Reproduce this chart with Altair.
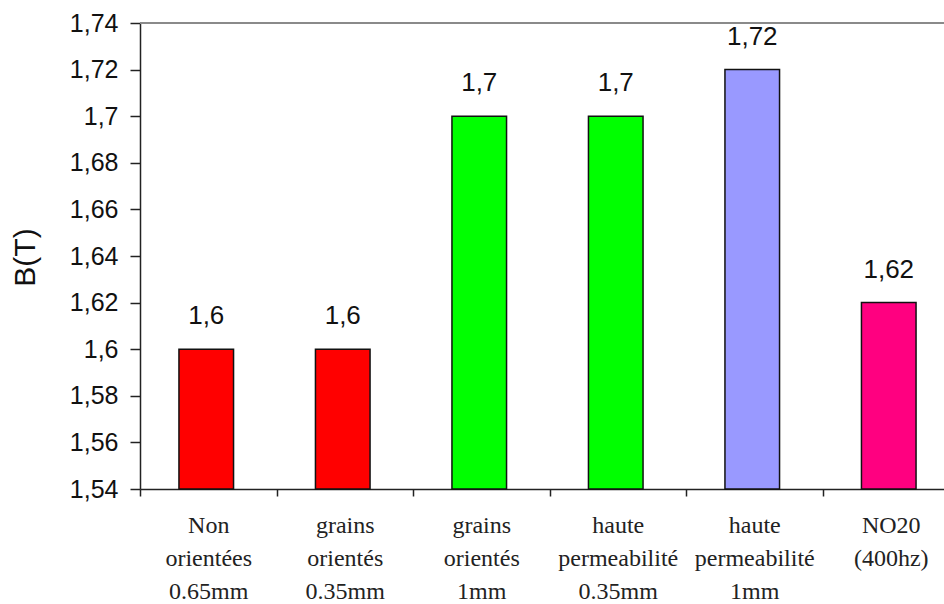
import altair as alt
import pandas as pd

# Saturation flux density B(T) for each sheet type
categories = [
    "Non|orientées|0.65mm",
    "grains|orientés|0.35mm",
    "grains|orientés|1mm",
    "haute|permeabilité|0.35mm",
    "haute|permeabilité|1mm",
    "NO20|(400hz)",
]
values = [1.6, 1.6, 1.7, 1.7, 1.72, 1.62]
colors = ["#FF0000", "#FF0000", "#00FF00", "#00FF00", "#9999FF", "#FF0080"]
y_ticks = [1.54, 1.56, 1.58, 1.60, 1.62, 1.64, 1.66, 1.68, 1.70, 1.72, 1.74]
y_min, y_max = 1.54, 1.74

df = pd.DataFrame({"cat": categories, "b": values, "color": colors})

x_enc = alt.X(
    "cat:N",
    sort=None,
    scale=alt.Scale(range=[0, 819], paddingInner=0, paddingOuter=0),
    axis=alt.Axis(
        title=None,
        labelAngle=0,
        labelExpr="split(datum.label, '|')",
        labelFont="Liberation Serif",
        labelFontSize=24,
        labelLineHeight=33,
        labelPadding=17,
        labelColor="#222222",
        tickBand="extent",
        tickSize=7,
        tickColor="#222222",
        domainColor="#222222",
        domainWidth=1.5,
        tickWidth=1.5,
        grid=False,
    ),
)

y_scale = alt.Scale(domain=[y_min, y_max], zero=False, nice=False)

base = alt.Chart(df)

bars = base.mark_bar(
    width=alt.RelativeBandSize(0.4),
    xOffset=-2,
    stroke="#111111",
    strokeWidth=1.5,
).encode(
    x=x_enc,
    y=alt.Y(
        "b:Q",
        scale=y_scale,
        axis=alt.Axis(
            values=y_ticks,
            labelExpr="replace(toString(datum.value), '.', ',')",
            labelFont="Arial, Liberation Sans",
            labelFontSize=25,
            labelColor="#111111",
            labelPadding=12,
            tickSize=10,
            tickColor="#222222",
            tickWidth=1.5,
            domainColor="#222222",
            domainWidth=1.5,
            grid=False,
            title="B(T)",
            titleFont="Arial, Liberation Sans",
            titleFontSize=30,
            titleFontWeight="normal",
            titleColor="#111111",
            titleX=-115,
            titleY=234,
            titleBaseline="middle",
        ),
    ),
    y2=alt.datum(y_min),
    color=alt.Color("color:N", scale=None, legend=None),
)

labels = base.transform_calculate(
    label="replace(toString(datum.b), '.', ',')"
).mark_text(
    font="Arial, Liberation Sans",
    fontSize=26,
    color="#111111",
    baseline="alphabetic",
    dy=-25,
    xOffset=-2,
).encode(
    x=alt.X("cat:N", sort=None),
    y=alt.Y("b:Q", scale=y_scale),
    text="label:N",
)

top_line = alt.Chart(df).mark_rule(color="#8a8a8a", strokeWidth=1.5).encode(
    y=alt.datum(y_max)
)

chart = alt.layer(bars, labels, top_line).properties(
    width=804,
    height=466,
    padding={"left": 140, "top": 23, "right": 0, "bottom": 115},
    autosize=alt.AutoSizeParams(type="none"),
).configure_view(stroke=None).configure(background="white")

chart.save("out.html", embed_options={"renderer": "svg", "actions": False})
